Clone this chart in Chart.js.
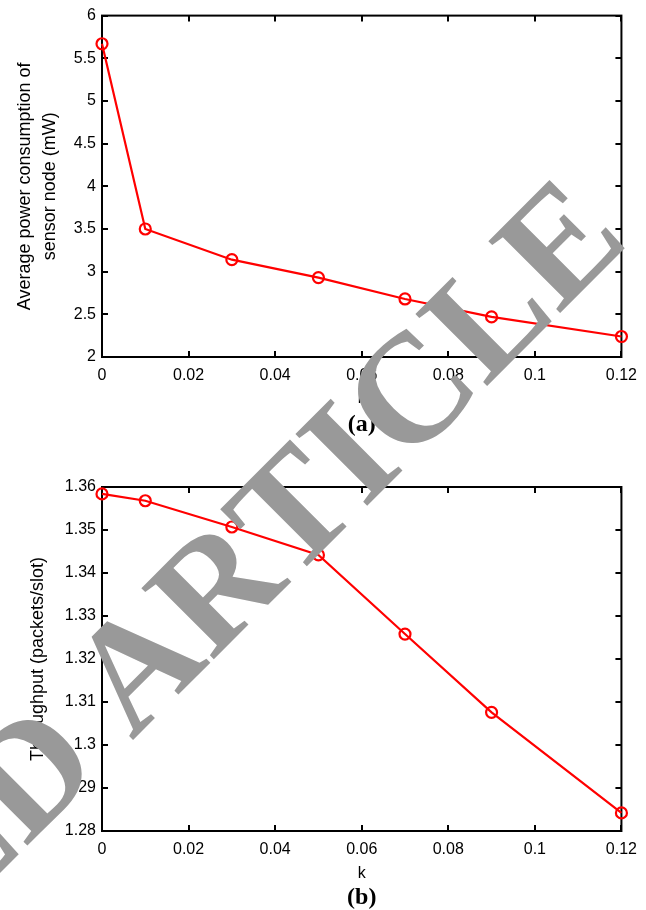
<!DOCTYPE html>
<html>
<head>
<meta charset="utf-8">
<script src="https://cdn.jsdelivr.net/npm/chart.js@4.4.1/dist/chart.umd.min.js"></script>
<style>
  html, body { margin: 0; padding: 0; background: #fff; }
  canvas { display: block; }
</style>
</head>
<body>
<canvas id="powerChart" width="646" height="455"></canvas>
<canvas id="throughputChart" width="646" height="455"></canvas>
<script>
// data
const kValues = [0, 0.01, 0.03, 0.05, 0.07, 0.09, 0.12];
const powerValues = [5.67, 3.5, 3.14, 2.93, 2.68, 2.47, 2.24];
const throughputValues = [1.3584, 1.3568, 1.3507, 1.3442, 1.3258, 1.3076, 1.2842];

const kTicks = [0, 0.02, 0.04, 0.06, 0.08, 0.1, 0.12];
const kTickLabels = ['0', '0.02', '0.04', '0.06', '0.08', '0.1', '0.12'];
const powerTicks = [2, 2.5, 3, 3.5, 4, 4.5, 5, 5.5, 6];
const powerTickLabels = ['2', '2.5', '3', '3.5', '4', '4.5', '5', '5.5', '6'];
const throughputTicks = [1.28, 1.29, 1.3, 1.31, 1.32, 1.33, 1.34, 1.35, 1.36];
const throughputTickLabels = ['1.28', '1.29', '1.3', '1.31', '1.32', '1.33', '1.34', '1.35', '1.36'];

Chart.defaults.font.family = "'Liberation Sans', Arial, sans-serif";
Chart.defaults.color = '#000';

// matlab style box with inward ticks on all four sides
const boxFrame = {
    id: 'boxFrame',
    beforeDatasetsDraw(chart) {
        const {ctx, chartArea: a, scales} = chart;
        const len = 6;
        ctx.save();
        ctx.strokeStyle = '#000';
        ctx.lineWidth = 2;
        ctx.beginPath();
        scales.x.ticks.forEach(t => {
            const px = Math.round(scales.x.getPixelForValue(t.value));
            ctx.moveTo(px, a.bottom); ctx.lineTo(px, a.bottom - len);
            ctx.moveTo(px, a.top); ctx.lineTo(px, a.top + len);
        });
        scales.y.ticks.forEach(t => {
            const py = Math.round(scales.y.getPixelForValue(t.value));
            ctx.moveTo(a.left, py); ctx.lineTo(a.left + len, py);
            ctx.moveTo(a.right, py); ctx.lineTo(a.right - len, py);
        });
        ctx.stroke();
        ctx.strokeRect(a.left, a.top, a.right - a.left, a.bottom - a.top);
        ctx.restore();
    }
};

// grey diagonal stamp, continued across both canvases
const stamp = {
    id: 'stamp',
    afterDraw(chart, args, opts) {
        const ctx = chart.ctx;
        ctx.save();
        ctx.font = "bold 155px 'Liberation Serif', 'Times New Roman', serif";
        ctx.fontKerning = 'none';
        ctx.fillStyle = '#999999';
        ctx.textBaseline = 'alphabetic';
        ctx.translate(132, 741 - opts.offsetY);
        ctx.rotate(-45 * Math.PI / 180);
        const lead = ctx.measureText('RETRACTED ').width;
        ctx.fillText('RETRACTED ARTICLE', -lead, 0);
        ctx.restore();
    }
};

function makeChart(id, cfg) {
    return new Chart(document.getElementById(id).getContext('2d'), {
        type: 'line',
        data: {
            datasets: [{
                data: kValues.map((k, i) => ({x: k, y: cfg.values[i]})),
                borderColor: '#ff0000',
                borderWidth: 2.2,
                pointStyle: 'circle',
                pointRadius: 5.5,
                pointBorderWidth: 2.2,
                pointBorderColor: '#ff0000',
                pointBackgroundColor: 'rgba(0,0,0,0)',
                tension: 0,
                clip: false
            }]
        },
        options: {
            responsive: false,
            animation: false,
            events: [],
            layout: { padding: { top: cfg.padTop, right: 24, left: 0, bottom: 0 } },
            plugins: {
                legend: { display: false },
                tooltip: { enabled: false },
                title: {
                    display: true,
                    position: 'bottom',
                    fullSize: false,
                    text: cfg.panel,
                    color: '#000',
                    font: { family: "'Liberation Serif', 'Times New Roman', serif", size: 24, weight: 'bold', lineHeight: 1 },
                    padding: { top: 0, bottom: cfg.panelPad }
                },
                stamp: { offsetY: cfg.offsetY }
            },
            scales: {
                x: {
                    type: 'linear',
                    min: 0,
                    max: 0.12,
                    afterBuildTicks: s => { s.ticks = kTicks.map(v => ({value: v})); },
                    afterFit: s => { s.height = cfg.xHeight; },
                    grid: { display: false, drawTicks: false },
                    border: { display: false },
                    ticks: {
                        padding: 9,
                        font: { size: 16 },
                        maxRotation: 0,
                        callback: (v, i) => kTickLabels[i]
                    },
                    title: {
                        display: true,
                        text: 'k',
                        font: { size: 16, lineHeight: 1.2 },
                        padding: { top: 0, bottom: cfg.kPad }
                    }
                },
                y: {
                    min: cfg.yTicks[0],
                    max: cfg.yTicks[cfg.yTicks.length - 1],
                    afterBuildTicks: s => { s.ticks = cfg.yTicks.map(v => ({value: v})); },
                    afterFit: s => { s.width = 102; },
                    grid: { display: false, drawTicks: false },
                    border: { display: false },
                    ticks: {
                        padding: 6,
                        font: { size: 16 },
                        callback: (v, i) => cfg.yLabels[i]
                    },
                    title: {
                        display: true,
                        text: cfg.yTitle,
                        font: { size: 18, lineHeight: 1.39 },
                        padding: { top: cfg.yTitlePad, bottom: 0 }
                    }
                }
            }
        },
        plugins: [boxFrame, stamp]
    });
}

makeChart('powerChart', {
    values: powerValues,
    yTicks: powerTicks,
    yLabels: powerTickLabels,
    yTitle: ['Average power consumption of', 'sensor node (mW)'],
    yTitlePad: 12.5,
    panel: '(a)',
    panelPad: 18,
    padTop: 14,
    xHeight: 56,
    kPad: 5,
    offsetY: 0
});

makeChart('throughputChart', {
    values: throughputValues,
    yTicks: throughputTicks,
    yLabels: throughputTickLabels,
    yTitle: 'Throughput (packets/slot)',
    yTitlePad: 25.5,
    panel: '(b)',
    panelPad: 0,
    padTop: 32,
    xHeight: 55,
    kPad: 3,
    offsetY: 455
});
</script>
</body>
</html>
